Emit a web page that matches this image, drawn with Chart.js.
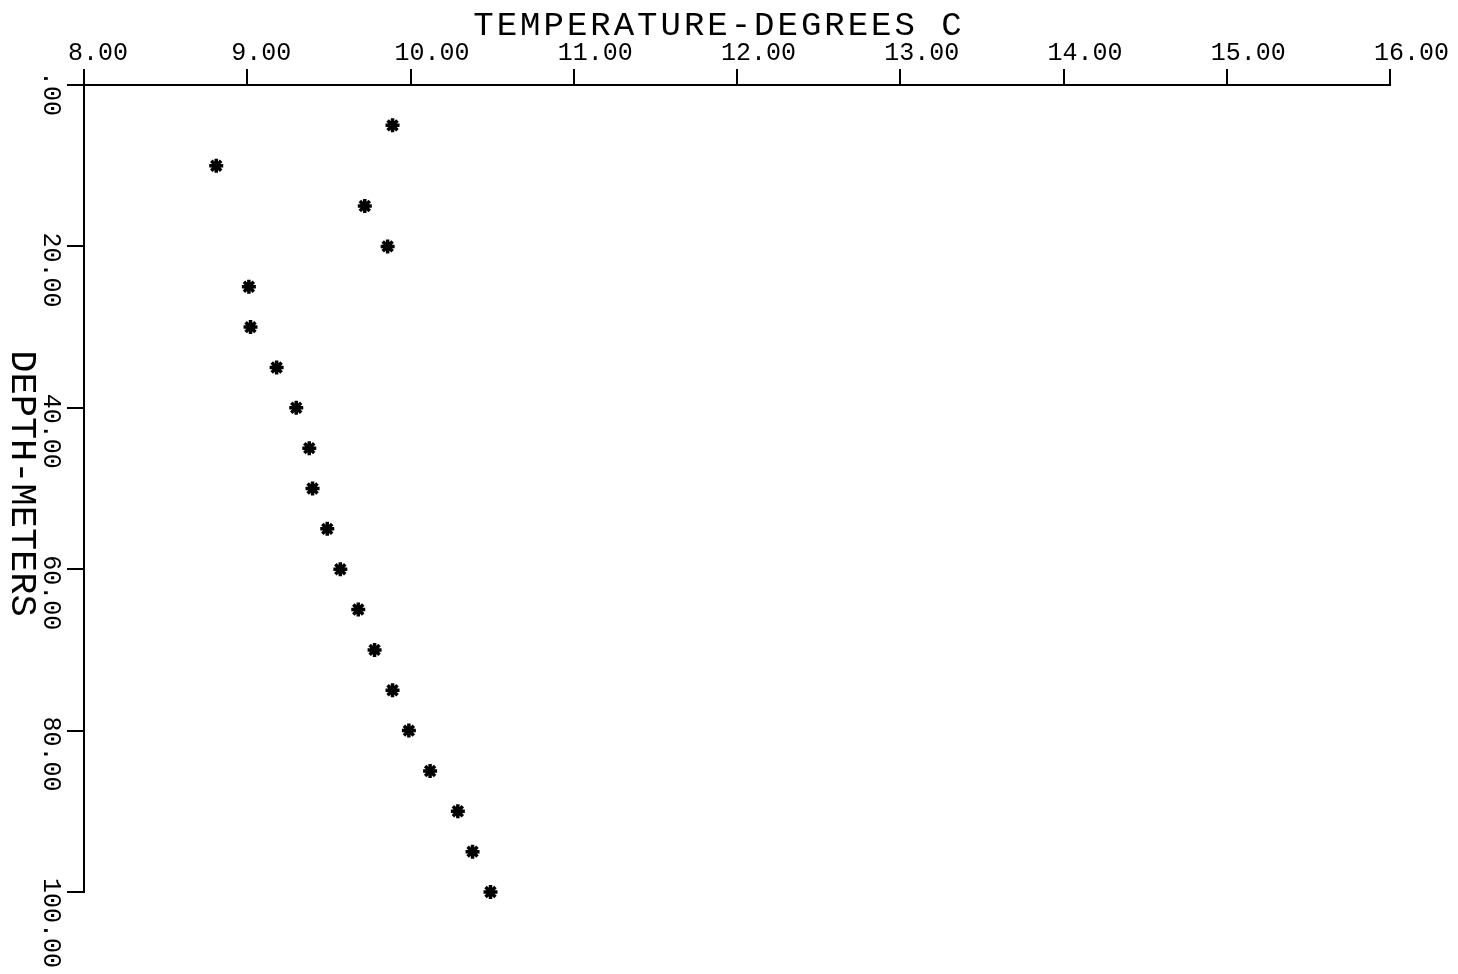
<!DOCTYPE html>
<html><head><meta charset="utf-8">
<script src="https://cdn.jsdelivr.net/npm/chart.js@4"></script>
<style>html,body{margin:0;padding:0;background:#fff}#wrap{width:1458px;height:974px;position:relative}</style>
</head><body><div id="wrap"><canvas id="c"></canvas></div>
<script>
const depths = [5, 10, 15, 20, 25, 30, 35, 40, 45, 50, 55, 60, 65, 70, 75, 80, 85, 90, 95, 100];
const temperatures = [9.89, 8.81, 9.72, 9.86, 9.01, 9.02, 9.18, 9.30, 9.38, 9.40, 9.49, 9.57, 9.68, 9.78, 9.89, 9.99, 10.12, 10.29, 10.38, 10.49];
const xTicks = [8, 9, 10, 11, 12, 13, 14, 15, 16];
const yTicks = [0, 20, 40, 60, 80, 100];
const xTitle = 'TEMPERATURE-DEGREES C';
const yTitle = 'DEPTH-METERS';

function fmt(v) { const s = Number(v).toFixed(2); return s.charAt(0) === '0' ? s.slice(1) : s; }
const MONO = '"Liberation Mono", "DejaVu Sans Mono", monospace';

const textPlugin = {
  id: 'plotterText',
  afterDraw(chart) {
    const ctx = chart.ctx;
    const ys = chart.scales.y, xs = chart.scales.x;
    ctx.save();
    ctx.fillStyle = '#000';
    // y tick labels, rotated clockwise, starting just above each tick
    ctx.font = '25px ' + MONO;
    ctx.textAlign = 'left';
    ctx.textBaseline = 'alphabetic';
    yTicks.forEach(v => {
      const p = ys.getPixelForValue(v);
      ctx.save();
      ctx.translate(44, p - 14);
      ctx.rotate(Math.PI / 2);
      ctx.fillText(fmt(v), 0, 0);
      ctx.restore();
    });
    // y title
    ctx.font = '37px ' + MONO;
    ctx.textAlign = 'center';
    ctx.save();
    ctx.translate(12, (ys.top + ys.bottom) / 2 - 5);
    ctx.rotate(Math.PI / 2);
    ctx.fillText(yTitle, 0, 0);
    ctx.restore();
    // x title
    ctx.font = '34px ' + MONO;
    try { ctx.letterSpacing = '3px'; } catch (e) {}
    ctx.textAlign = 'center';
    ctx.fillText(xTitle, (xs.left + xs.right) / 2 - 18, 35);
    ctx.restore();
  }
};

new Chart(document.getElementById('c'), {
  type: 'scatter',
  data: {
    datasets: [{
      data: depths.map((d, i) => ({ x: temperatures[i], y: d })),
      pointStyle: 'star',
      pointRadius: 7,
      pointHoverRadius: 7,
      borderWidth: 3.5,
      borderColor: '#000',
      backgroundColor: '#000',
      showLine: false,
      clip: false
    }]
  },
  options: {
    responsive: true,
    maintainAspectRatio: false,
    animation: false,
    layout: { padding: { left: 0, top: 0, right: 68, bottom: 82 } },
    plugins: { legend: { display: false }, tooltip: { enabled: false } },
    scales: {
      x: {
        type: 'linear', position: 'top', min: 8, max: 16,
        afterBuildTicks: s => { s.ticks = xTicks.map(v => ({ value: v })); },
        afterFit: s => { s.height = 85; s.paddingLeft = 0; s.paddingRight = 0; },
        ticks: { callback: v => fmt(v), align: 'start', labelOffset: -16, padding: 1, color: '#000',
                 font: { family: MONO, size: 25 } },
        grid: { drawOnChartArea: false, drawTicks: true, tickLength: 16, color: '#000', lineWidth: 2 },
        border: { display: true, color: '#000', width: 2 }
      },
      y: {
        type: 'linear', position: 'left', reverse: true, min: 0, max: 100,
        afterBuildTicks: s => { s.ticks = yTicks.map(v => ({ value: v })); },
        afterFit: s => { s.width = 84; },
        ticks: { display: false },
        grid: { drawOnChartArea: false, drawTicks: true, tickLength: 17, color: '#000', lineWidth: 2 },
        border: { display: true, color: '#000', width: 2 }
      }
    }
  },
  plugins: [textPlugin]
});
</script>
</body></html>
